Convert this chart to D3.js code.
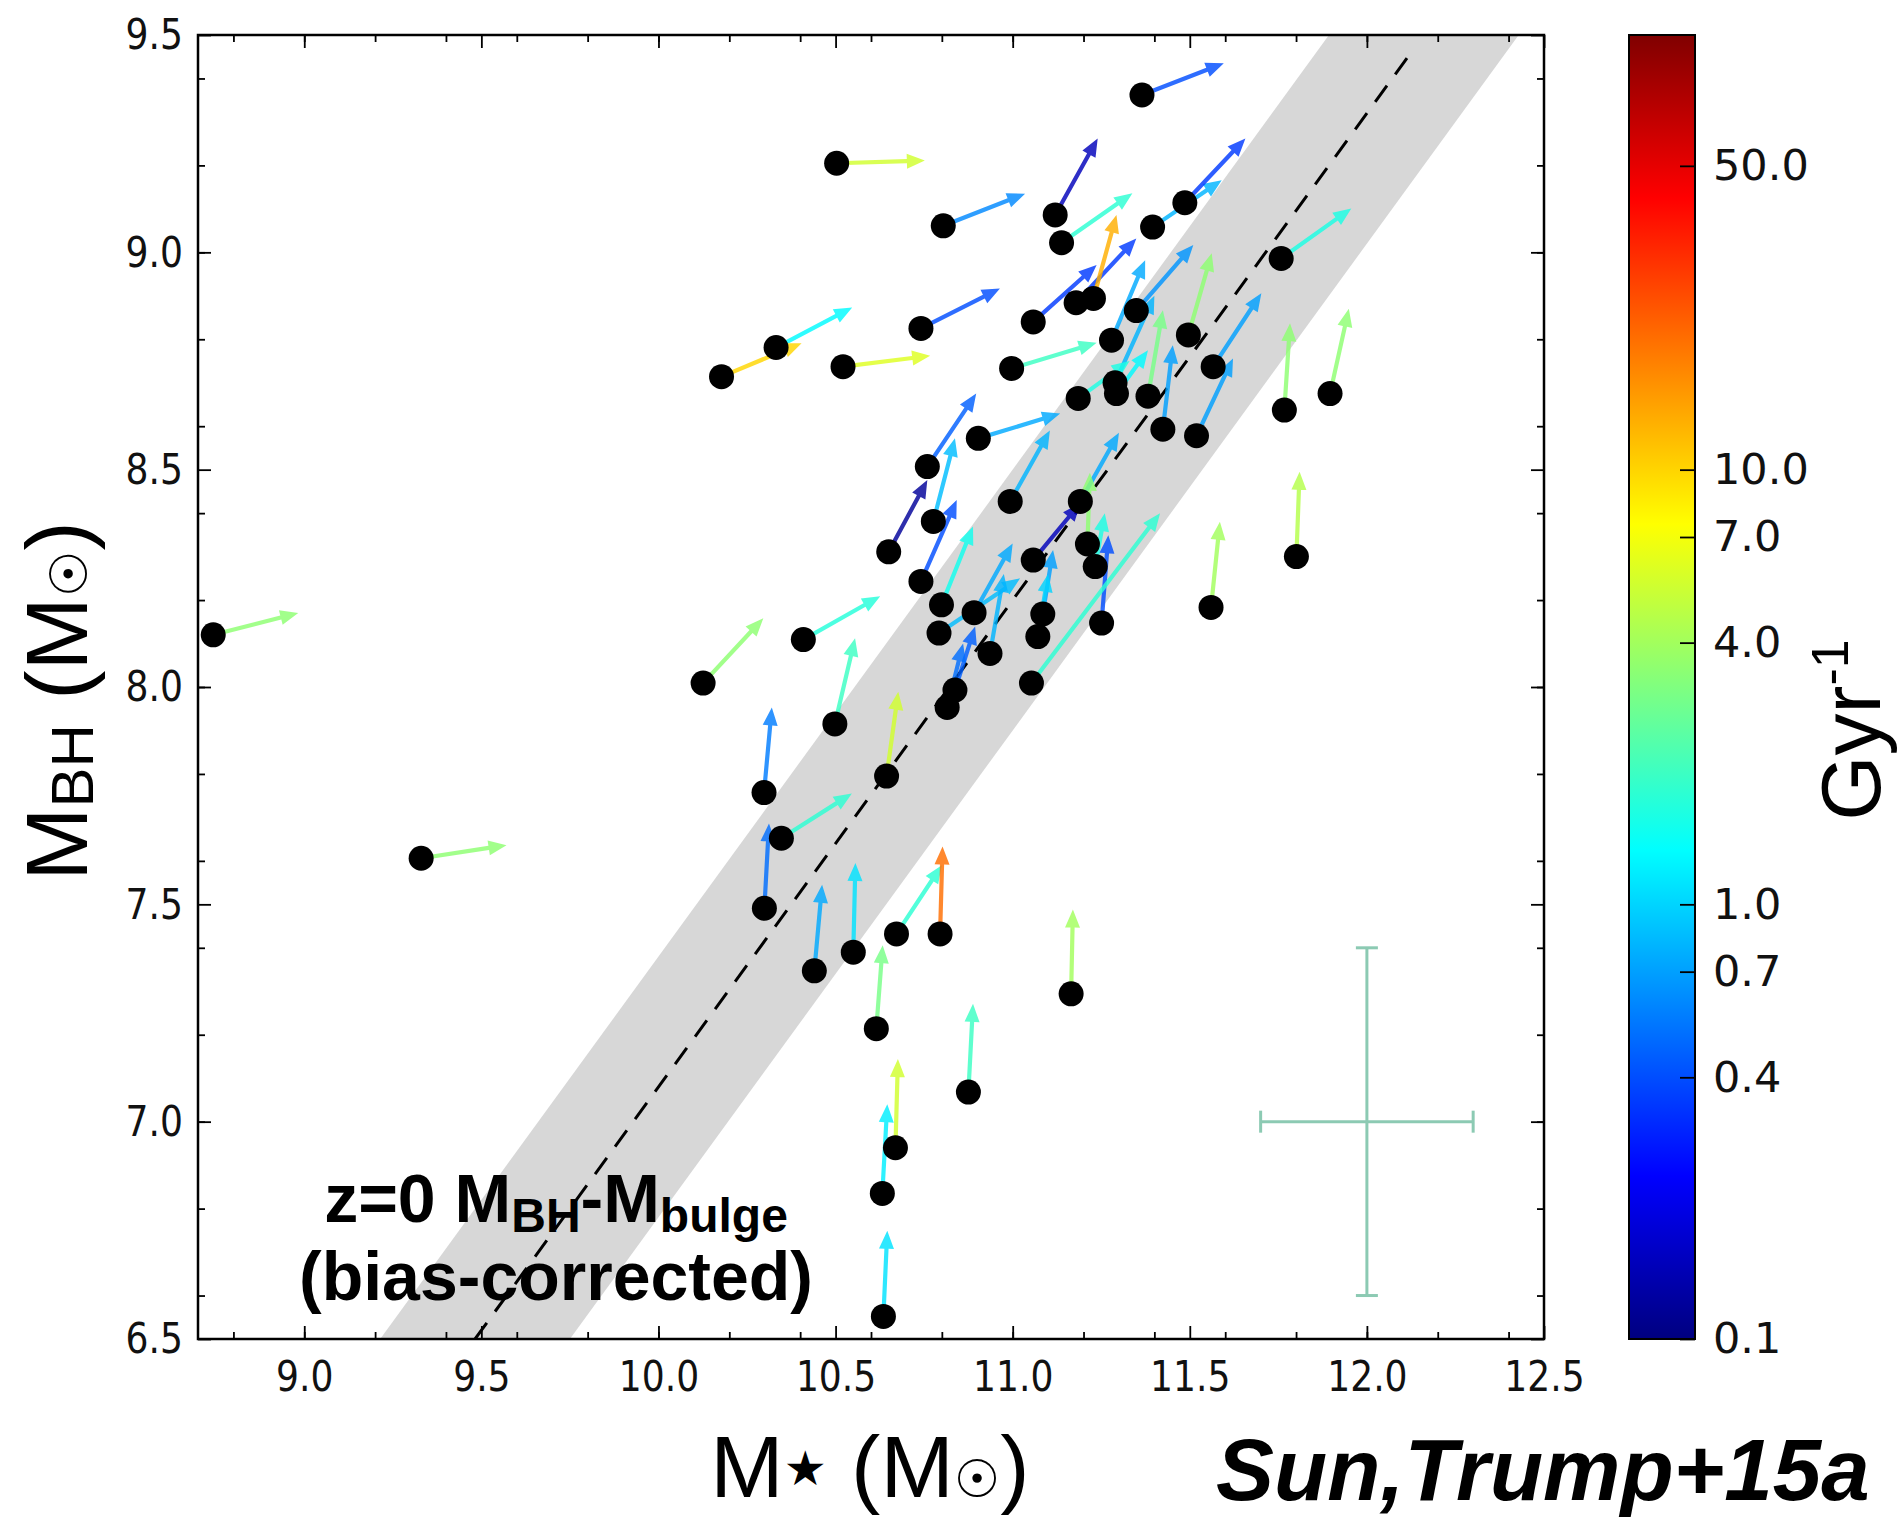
<!DOCTYPE html>
<html>
<head>
<meta charset="utf-8">
<script src="https://cdn.jsdelivr.net/npm/d3@7"></script>
<style>
  body { margin: 0; background: #fff; }
  svg { display: block; }
</style>
</head>
<body>
<svg id="chart"></svg>
<script>
// stellar mass, BH mass (log Msun) and where each growth arrow points
var mstar = [8.743, 9.330, 10.503, 11.365, 10.804, 11.120, 11.138, 11.395, 11.486, 11.758,
  10.332, 10.178, 10.521, 10.741, 10.997, 10.903, 10.759, 11.058, 11.179, 11.228,
  11.349, 11.279, 11.496, 11.566, 11.289, 11.293, 11.185, 11.382, 11.424, 11.519,
  11.767, 11.896, 10.776, 10.650, 10.741, 10.799, 10.792, 10.891, 10.936, 10.837,
  10.815, 10.409, 10.126, 10.498, 10.298, 10.644, 10.993, 11.191, 11.211, 11.233,
  11.058, 11.251, 11.085, 11.071, 11.053, 11.560, 11.801, 10.347, 10.299, 10.440,
  10.550, 10.672, 10.795, 10.615, 10.875, 10.669, 10.632, 10.635, 11.165];
var mbh = [8.120, 7.606, 9.205, 9.362, 9.061, 9.086, 9.022, 9.058, 9.114, 8.986,
  8.781, 8.714, 8.737, 8.825, 8.733, 8.572, 8.507, 8.840, 8.884, 8.894,
  8.866, 8.798, 8.810, 8.737, 8.700, 8.675, 8.664, 8.669, 8.593, 8.578,
  8.637, 8.675, 8.381, 8.311, 8.243, 8.189, 8.124, 8.171, 8.077, 7.993,
  7.953, 8.109, 8.009, 7.915, 7.757, 7.795, 8.427, 8.427, 8.329, 8.277,
  8.292, 8.147, 8.168, 8.116, 8.009, 8.183, 8.300, 7.652, 7.491, 7.347,
  7.390, 7.432, 7.432, 7.214, 7.068, 6.940, 6.835, 6.552, 7.294];
var mstarTip = [8.983, 9.571, 10.752, 11.596, 11.035, 11.240, 11.338, 11.590, 11.657, 11.956,
  10.547, 10.404, 10.767, 10.964, 11.237, 11.134, 10.897, 11.237, 11.349, 11.293,
  11.510, 11.374, 11.562, 11.702, 11.400, 11.382, 11.330, 11.424, 11.452, 11.622,
  11.783, 11.949, 10.837, 10.759, 10.842, 10.888, 11.021, 11.000, 10.975, 10.894,
  10.860, 10.626, 10.296, 10.555, 10.320, 10.677, 11.105, 11.300, 11.218, 11.260,
  11.191, 11.270, 11.114, 11.100, 11.416, 11.585, 11.810, 10.546, 10.312, 10.462,
  10.556, 10.800, 10.802, 10.633, 10.888, 10.676, 10.646, 10.646, 11.170];
var mbhTip = [8.170, 7.636, 9.211, 9.435, 9.135, 9.262, 9.136, 9.166, 9.262, 9.101,
  8.873, 8.791, 8.762, 8.917, 8.792, 8.629, 8.675, 8.971, 9.032, 9.086,
  9.017, 8.982, 8.998, 8.906, 8.900, 8.775, 8.750, 8.867, 8.786, 8.756,
  8.837, 8.870, 8.572, 8.476, 8.430, 8.369, 8.250, 8.330, 8.260, 8.139,
  8.100, 8.209, 8.158, 8.112, 7.953, 7.989, 8.590, 8.585, 8.493, 8.400,
  8.423, 8.349, 8.315, 8.260, 8.400, 8.380, 8.495, 7.755, 7.686, 7.545,
  7.595, 7.590, 7.633, 7.406, 7.271, 7.144, 7.040, 6.749, 7.488];
// growth rate, Gyr^-1 (arrow colour)
var rate = [3.5, 3.5, 5.5, 0.4, 0.6, 0.15, 1.8, 0.8, 0.35, 1.6,
  1.3, 10, 6, 0.4, 2.0, 0.75, 0.45, 0.35, 0.35, 13,
  0.65, 0.75, 3.5, 0.7, 0.8, 1.3, 1.6, 3.0, 0.7, 0.7,
  3.5, 3.5, 0.85, 0.12, 0.4, 1.5, 0.85, 0.75, 0.8, 0.45,
  0.5, 1.7, 3.5, 2.0, 0.55, 5.5, 0.8, 0.75, 3.5, 1.6,
  0.15, 0.4, 0.7, 1.0, 1.8, 4.0, 4.5, 1.8, 0.5, 0.75,
  1.1, 1.8, 20, 3.0, 2.0, 5.5, 1.2, 1.1, 4.0];

var xTicks = [9.0, 9.5, 10.0, 10.5, 11.0, 11.5, 12.0, 12.5];
var yTicks = [6.5, 7.0, 7.5, 8.0, 8.5, 9.0, 9.5];
var cbTicks = [0.1, 0.4, 0.7, 1.0, 4.0, 7.0, 10.0, 50.0];

// z=0 relation (norm at pivot, slope, scatter) and typical error
var relation = [8.20, 11.0, 1.12, 0.3];
var errCross = [12.0, 7.0, 0.3, 0.4];

var W = 1900, H = 1517;
var svg = d3.select('#chart').attr('width', W).attr('height', H);

var x = d3.scaleLinear().domain([8.7, 12.5]).range([198, 1544]);
var y = d3.scaleLinear().domain([6.5, 9.5]).range([1339, 35]);
var cb = d3.scaleLog().domain([0.1, 100]).range([1339, 35]);

function jet(v) {
  var t = (Math.log10(v) + 1) / 3;
  function cl(a) { return Math.max(0, Math.min(1, a)); }
  var r = cl(1.5 - Math.abs(4 * t - 3)), g = cl(1.5 - Math.abs(4 * t - 2)), b = cl(1.5 - Math.abs(4 * t - 1));
  return d3.rgb(r * 255, g * 255, b * 255).toString();
}

svg.append('clipPath').attr('id', 'plotclip')
  .append('rect').attr('x', x(8.7)).attr('y', y(9.5))
  .attr('width', x(12.5) - x(8.7)).attr('height', y(6.5) - y(9.5));

var plot = svg.append('g').attr('clip-path', 'url(#plotclip)');

// scatter band around relation
function rel(m) { return relation[0] + relation[2] * (m - relation[1]); }
var bandX = [8.0, 13.0];
var band = bandX.map(function (m) { return [x(m), y(rel(m) + relation[3])]; })
  .concat(bandX.slice().reverse().map(function (m) { return [x(m), y(rel(m) - relation[3])]; }));
plot.append('polygon').attr('points', band.join(' ')).attr('fill', '#d7d7d7');

plot.append('line')
  .attr('x1', x(11 + (6.5 - relation[0]) / relation[2])).attr('y1', y(6.5))
  .attr('x2', x(11 + (9.46 - relation[0]) / relation[2])).attr('y2', y(9.46))
  .attr('stroke', '#000').attr('stroke-width', 3).attr('stroke-dasharray', '20,14');

// error bar cross
var eb = plot.append('g').attr('stroke', '#8ccab3').attr('stroke-width', 3);
eb.append('line').attr('x1', x(errCross[0])).attr('x2', x(errCross[0]))
  .attr('y1', y(errCross[1] - errCross[3])).attr('y2', y(errCross[1] + errCross[3]));
eb.append('line').attr('y1', y(errCross[1])).attr('y2', y(errCross[1]))
  .attr('x1', x(errCross[0] - errCross[2])).attr('x2', x(errCross[0] + errCross[2]));
[-1, 1].forEach(function (s) {
  eb.append('line').attr('x1', x(errCross[0]) - 11).attr('x2', x(errCross[0]) + 11)
    .attr('y1', y(errCross[1] + s * errCross[3])).attr('y2', y(errCross[1] + s * errCross[3]));
  eb.append('line').attr('y1', y(errCross[1]) - 11).attr('y2', y(errCross[1]) + 11)
    .attr('x1', x(errCross[0] + s * errCross[2])).attr('x2', x(errCross[0] + s * errCross[2]));
});

// arrows
var idx = d3.range(mstar.length);
function arrowPath(i) {
  var x0 = x(mstar[i]), y0 = y(mbh[i]), x1 = x(mstarTip[i]), y1 = y(mbhTip[i]);
  var dx = x1 - x0, dy = y1 - y0, L = Math.sqrt(dx * dx + dy * dy);
  var ux = dx / L, uy = dy / L, px = -uy, py = ux;
  var hl = 18, hw = 7.5, sw = 2.1;
  var bx = x1 - ux * hl, by = y1 - uy * hl;
  var pts = [
    [x0 + px * sw, y0 + py * sw], [bx + px * sw, by + py * sw], [bx + px * hw, by + py * hw],
    [x1, y1],
    [bx - px * hw, by - py * hw], [bx - px * sw, by - py * sw], [x0 - px * sw, y0 - py * sw]
  ];
  return 'M' + pts.join('L') + 'Z';
}
plot.append('g').selectAll('path').data(idx).enter().append('path')
  .attr('d', arrowPath)
  .attr('fill', function (i) { return jet(rate[i]); })
  .attr('fill-opacity', 0.82);

plot.append('g').selectAll('circle').data(idx).enter().append('circle')
  .attr('cx', function (i) { return x(mstar[i]); })
  .attr('cy', function (i) { return y(mbh[i]); })
  .attr('r', 12.5).attr('fill', '#000');

// axes: ticks every 0.2 plus labelled every 0.5, pointing inward
function minorVals(lo, hi) {
  var v = [];
  for (var k = Math.ceil(lo * 5); k <= Math.floor(hi * 5); k++) v.push(k / 5);
  return v;
}
var tickFont = "'DejaVu Sans', sans-serif";
var xMinor = minorVals(8.7, 12.5), yMinor = minorVals(6.5, 9.5);

function styleAxis(g) {
  g.select('.domain').remove();
  g.selectAll('line').attr('stroke', '#000').attr('stroke-width', 1.8);
  g.selectAll('text').attr('font-family', tickFont).attr('font-size', 43).attr('fill', '#111');
}
// the plot's tick numbers are narrower than the colour bar's
function narrow(g) {
  g.selectAll('text').each(function () {
    var t = d3.select(this);
    t.attr('x', (+t.attr('x') || 0) / 0.84).attr('transform', 'scale(0.84,1)');
  });
}

svg.append('g').attr('transform', 'translate(0,' + y(6.5) + ')')
  .call(d3.axisBottom(x).tickValues(xMinor).tickSize(-7).tickFormat('')).call(styleAxis);
svg.append('g').attr('transform', 'translate(0,' + y(6.5) + ')')
  .call(d3.axisBottom(x).tickValues(xTicks).tickSize(-13).tickPadding(21).tickFormat(d3.format('.1f')))
  .call(styleAxis).call(narrow);
svg.append('g').attr('transform', 'translate(0,' + y(9.5) + ')')
  .call(d3.axisTop(x).tickValues(xMinor).tickSize(-7).tickFormat('')).call(styleAxis);
svg.append('g').attr('transform', 'translate(0,' + y(9.5) + ')')
  .call(d3.axisTop(x).tickValues(xTicks).tickSize(-13).tickFormat('')).call(styleAxis);

svg.append('g').attr('transform', 'translate(' + x(8.7) + ',0)')
  .call(d3.axisLeft(y).tickValues(yMinor).tickSize(-7).tickFormat('')).call(styleAxis);
svg.append('g').attr('transform', 'translate(' + x(8.7) + ',0)')
  .call(d3.axisLeft(y).tickValues(yTicks).tickSize(-13).tickPadding(15).tickFormat(d3.format('.1f')))
  .call(styleAxis).call(narrow);
svg.append('g').attr('transform', 'translate(' + x(12.5) + ',0)')
  .call(d3.axisRight(y).tickValues(yMinor).tickSize(-7).tickFormat('')).call(styleAxis);
svg.append('g').attr('transform', 'translate(' + x(12.5) + ',0)')
  .call(d3.axisRight(y).tickValues(yTicks).tickSize(-13).tickFormat('')).call(styleAxis);

svg.append('rect').attr('x', x(8.7)).attr('y', y(9.5))
  .attr('width', x(12.5) - x(8.7)).attr('height', y(6.5) - y(9.5))
  .attr('fill', 'none').attr('stroke', '#000').attr('stroke-width', 2.5);

// colour bar
var grad = svg.append('defs').append('linearGradient').attr('id', 'jetgrad')
  .attr('x1', 0).attr('y1', 1).attr('x2', 0).attr('y2', 0);
[0, 0.125, 0.375, 0.625, 0.875, 1].forEach(function (t) {
  grad.append('stop').attr('offset', t).attr('stop-color', jet(Math.pow(10, 3 * t - 1)));
});
var cbX0 = 1629, cbX1 = 1695;
svg.append('rect').attr('x', cbX0).attr('y', cb(100)).attr('width', cbX1 - cbX0)
  .attr('height', cb(0.1) - cb(100)).attr('fill', 'url(#jetgrad)')
  .attr('stroke', '#000').attr('stroke-width', 2);
svg.append('g').attr('transform', 'translate(' + cbX1 + ',0)')
  .call(d3.axisRight(cb).tickValues(cbTicks).tickSize(-15).tickPadding(18).tickFormat(d3.format('.1f')))
  .call(styleAxis);

// titles
var sans = "'Liberation Sans', Arial, sans-serif";
var sym = "'DejaVu Sans', sans-serif";

var yl = svg.append('text').attr('transform', 'translate(87,701) rotate(-90)')
  .attr('text-anchor', 'middle').attr('font-family', sans).attr('font-size', 88);
yl.append('tspan').text('M');
yl.append('tspan').attr('font-size', 60).attr('dy', 6).text('BH');
yl.append('tspan').attr('dy', -6).text(' (M');
yl.append('tspan').attr('font-family', sym).attr('font-size', 52).text('\u2609');
yl.append('tspan').text(')');

var xl = svg.append('text').attr('x', 870).attr('y', 1497)
  .attr('text-anchor', 'middle').attr('font-family', sans).attr('font-size', 88);
xl.append('tspan').text('M');
xl.append('tspan').attr('font-family', sym).attr('font-size', 48).attr('dy', -12).text('\u2605');
xl.append('tspan').attr('dy', 12).text(' (M');
xl.append('tspan').attr('font-family', sym).attr('font-size', 52).text('\u2609');
xl.append('tspan').text(')');

svg.append('text').attr('x', 1216).attr('y', 1500)
  .attr('font-family', sans).attr('font-size', 87).attr('font-weight', 'bold')
  .attr('font-style', 'italic').text('Sun,Trump+15a');

var gl = svg.append('text').attr('transform', 'translate(1880,730) rotate(-90)')
  .attr('text-anchor', 'middle').attr('font-family', sans).attr('font-size', 84);
gl.append('tspan').text('Gyr');
gl.append('tspan').attr('font-size', 52).attr('dy', -32).text('-1');

var an1 = svg.append('text').attr('x', 556).attr('y', 1222).attr('text-anchor', 'middle')
  .attr('font-family', sans).attr('font-size', 68).attr('font-weight', 'bold');
an1.append('tspan').text('z=0 M');
an1.append('tspan').attr('font-size', 48).attr('dy', 10).text('BH');
an1.append('tspan').attr('dy', -10).text('-M');
an1.append('tspan').attr('font-size', 48).attr('dy', 10).text('bulge');
svg.append('text').attr('x', 556).attr('y', 1300).attr('text-anchor', 'middle')
  .attr('font-family', sans).attr('font-size', 68).attr('font-weight', 'bold')
  .text('(bias-corrected)');
</script>
</body>
</html>
